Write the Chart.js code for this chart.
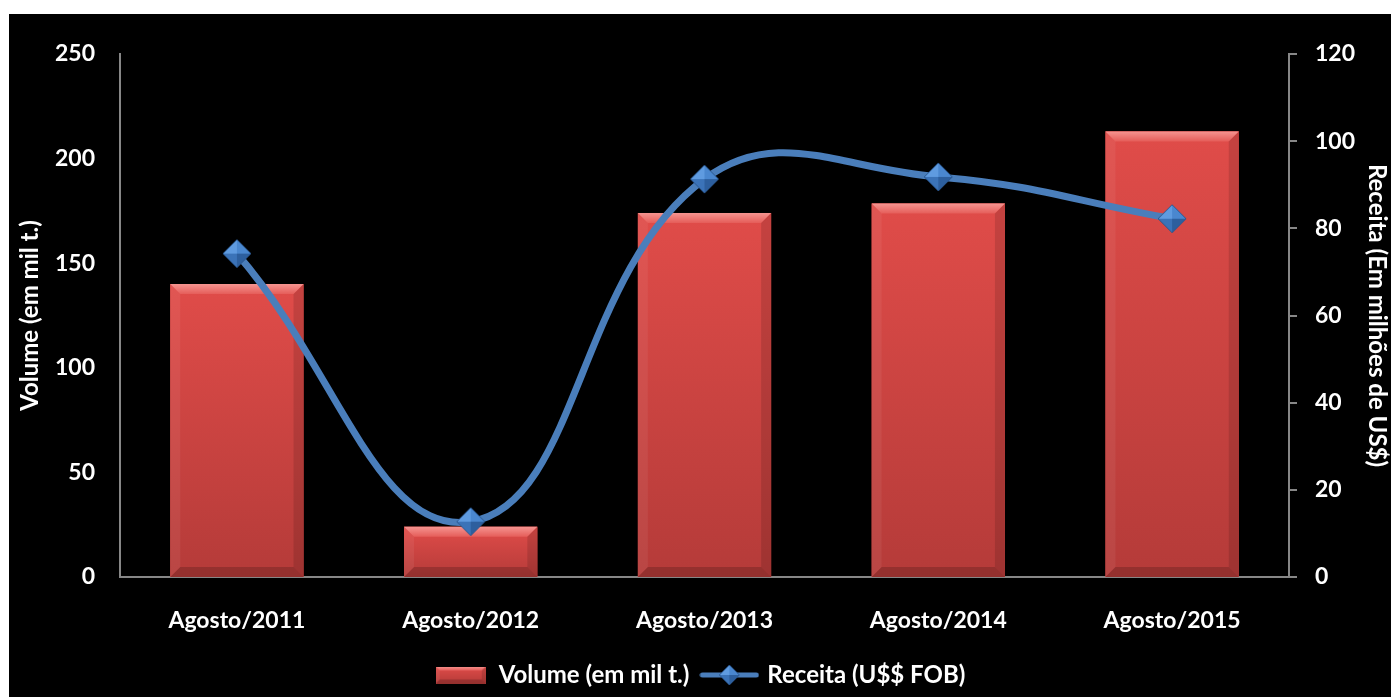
<!DOCTYPE html>
<html lang="pt-BR">
<head>
<meta charset="utf-8">
<title>Volume e Receita - Agosto</title>
<script src="https://cdn.jsdelivr.net/npm/chart.js@4.4.1/dist/chart.umd.min.js"></script>
<style>
    html, body { margin: 0; padding: 0; background: #ffffff; }
    #painel {
        position: absolute;
        left: 9px;
        top: 14px;
        width: 1382px;
        height: 683px;
        background: #000000;
    }
    #grafico { display: block; }
</style>
</head>
<body>
<div id="painel">
    <canvas id="grafico" width="1382" height="683"></canvas>
</div>
<script>
const periodos = ["Agosto/2011", "Agosto/2012", "Agosto/2013", "Agosto/2014", "Agosto/2015"];
const volume = [140, 24, 174, 178.5, 213];
const receita = [74.2, 12.7, 91.3, 91.8, 82.2];

const volumeTicks = [0, 50, 100, 150, 200, 250];
const receitaTicks = [0, 20, 40, 60, 80, 100, 120];

const FONTE = "Lato, 'Open Sans', sans-serif";
const EIXO_COR = "#878787";
const AZUL = "#4a7ebb";
const fonteTicks = { family: FONTE, size: 23, weight: "bold" };
const fonteTitulos = { family: FONTE, size: 24, weight: "bold" };

// diamante com faces iluminadas, usado como marcador da linha
function criarDiamante(raio) {
    const tam = raio * 2 + 4;
    const c = document.createElement("canvas");
    c.width = tam;
    c.height = tam;
    const g = c.getContext("2d");
    const cx = tam / 2, cy = tam / 2;
    const faces = [
        [[cx, cy - raio], [cx - raio, cy], "#5f9be0"],
        [[cx, cy - raio], [cx + raio, cy], "#4a87cf"],
        [[cx - raio, cy], [cx, cy + raio], "#3b73b8"],
        [[cx + raio, cy], [cx, cy + raio], "#2d5f9e"]
    ];
    faces.forEach(([a, b, cor]) => {
        g.beginPath();
        g.moveTo(cx, cy);
        g.lineTo(a[0], a[1]);
        g.lineTo(b[0], b[1]);
        g.closePath();
        g.fillStyle = cor;
        g.fill();
    });
    g.beginPath();
    g.moveTo(cx, cy - raio);
    g.lineTo(cx + raio, cy);
    g.lineTo(cx, cy + raio);
    g.lineTo(cx - raio, cy);
    g.closePath();
    g.strokeStyle = "#2a578f";
    g.lineWidth = 1;
    g.stroke();
    return c;
}

function pintarBarraChanfrada(g, l, t, r, b, chanfro) {
    const e = Math.min(chanfro, (b - t) / 3, (r - l) / 3);

    const corpo = g.createLinearGradient(0, t, 0, b);
    corpo.addColorStop(0, "#e04c49");
    corpo.addColorStop(1, "#b53b39");
    g.fillStyle = corpo;
    g.fillRect(l, t, r - l, b - t);

    const poli = (pts, estilo) => {
        g.beginPath();
        g.moveTo(pts[0][0], pts[0][1]);
        for (let i = 1; i < pts.length; i++) g.lineTo(pts[i][0], pts[i][1]);
        g.closePath();
        g.fillStyle = estilo;
        g.fill();
    };

    const topo = g.createLinearGradient(0, t, 0, t + e);
    topo.addColorStop(0, "#f59490");
    topo.addColorStop(1, "#e55d59");
    poli([[l, t], [r, t], [r - e, t + e], [l + e, t + e]], topo);
    poli([[l, t], [l + e, t + e], [l + e, b - e], [l, b]], "rgba(255,255,255,0.06)");
    poli([[r, t], [r, b], [r - e, b - e], [r - e, t + e]], "rgba(0,0,0,0.12)");
    poli([[l, b], [l + e, b - e], [r - e, b - e], [r, b]], "rgba(0,0,0,0.18)");
}

function criarMarcadorVolume() {
    const c = document.createElement("canvas");
    c.width = 50;
    c.height = 17;
    pintarBarraChanfrada(c.getContext("2d"), 0, 0, 50, 17, 4);
    return c;
}

function criarMarcadorReceita() {
    const c = document.createElement("canvas");
    c.width = 60;
    c.height = 24;
    const g = c.getContext("2d");
    g.strokeStyle = AZUL;
    g.lineWidth = 5;
    g.lineCap = "round";
    g.beginPath();
    g.moveTo(3, 12);
    g.lineTo(57, 12);
    g.stroke();
    g.drawImage(criarDiamante(10), 30 - 12, 0);
    return c;
}

const diamante = criarDiamante(14);
const marcadores = [criarMarcadorVolume(), criarMarcadorReceita()];

const barrasChanfradas = {
    id: "barrasChanfradas",
    afterDatasetDraw(chart, args) {
        if (args.meta.type !== "bar") return;
        const g = chart.ctx;
        g.save();
        args.meta.data.forEach(barra => {
            const { x, y, base, width } = barra.getProps(["x", "y", "base", "width"], true);
            pintarBarraChanfrada(g, x - width / 2, y, x + width / 2, base, 10);
        });
        g.restore();
    }
};

new Chart(document.getElementById("grafico"), {
    data: {
        labels: periodos,
        datasets: [
            {
                type: "line",
                label: "Receita (U$$ FOB)",
                data: receita,
                yAxisID: "y1",
                order: 0,
                borderColor: AZUL,
                borderWidth: 7,
                tension: 0.43,
                pointStyle: diamante,
                pointRadius: 14,
                pointHoverRadius: 14
            },
            {
                type: "bar",
                label: "Volume (em mil t.)",
                data: volume,
                yAxisID: "y",
                order: 1,
                backgroundColor: "#d84542",
                borderWidth: 0,
                categoryPercentage: 1,
                barPercentage: 0.57
            }
        ]
    },
    options: {
        responsive: false,
        animation: false,
        layout: { padding: { top: 40, left: 0, right: 0, bottom: 0 } },
        plugins: {
            tooltip: { enabled: false },
            legend: {
                position: "bottom",
                reverse: true,
                labels: {
                    color: "#ffffff",
                    font: fonteTitulos,
                    usePointStyle: true,
                    pointStyleWidth: 52,
                    padding: 14,
                    generateLabels(chart) {
                        return chart.data.datasets.map((ds, i) => ({
                            text: ds.label,
                            pointStyle: marcadores[i === 0 ? 1 : 0],
                            fontColor: "#ffffff",
                            lineWidth: 0,
                            strokeStyle: "transparent",
                            fillStyle: "transparent",
                            hidden: false,
                            datasetIndex: i
                        }));
                    }
                }
            }
        },
        scales: {
            x: {
                grid: { display: false, drawTicks: false },
                border: { display: true, color: EIXO_COR, width: 2 },
                ticks: {
                    color: "#ffffff",
                    font: fonteTicks,
                    padding: 30,
                    maxRotation: 0
                },
                afterFit(scale) { scale.height = 72; }
            },
            y: {
                position: "left",
                min: 0,
                max: 250,
                afterBuildTicks(scale) { scale.ticks = volumeTicks.map(v => ({ value: v })); },
                grid: { display: false, drawTicks: false },
                border: { display: true, color: EIXO_COR, width: 2 },
                ticks: {
                    color: "#ffffff",
                    font: fonteTicks,
                    padding: 25
                },
                title: {
                    display: true,
                    text: "Volume (em mil t.)",
                    color: "#ffffff",
                    font: fonteTitulos,
                    padding: { top: 7, bottom: 0 }
                },
                afterFit(scale) { scale.width = 111; }
            },
            y1: {
                position: "right",
                min: 0,
                max: 120,
                afterBuildTicks(scale) { scale.ticks = receitaTicks.map(v => ({ value: v })); },
                grid: {
                    display: true,
                    drawOnChartArea: false,
                    drawTicks: true,
                    tickLength: 8,
                    color: EIXO_COR,
                    lineWidth: 2
                },
                border: { display: true, color: EIXO_COR, width: 2 },
                ticks: {
                    color: "#ffffff",
                    font: fonteTicks,
                    padding: 18
                },
                title: {
                    display: true,
                    text: "Receita (Em milhões de US$)",
                    color: "#ffffff",
                    font: fonteTitulos,
                    padding: { top: 0, bottom: 0 }
                },
                afterFit(scale) { scale.width = 102; }
            }
        }
    },
    plugins: [barrasChanfradas]
});
</script>
</body>
</html>
